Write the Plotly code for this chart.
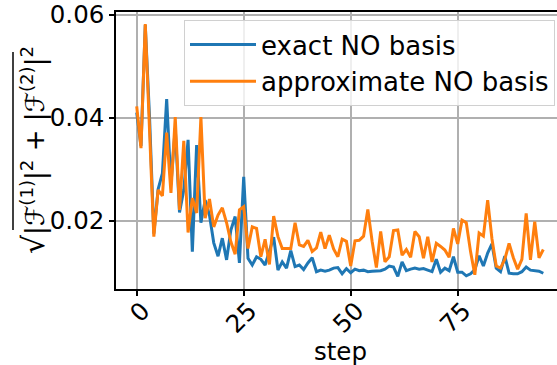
import plotly.graph_objects as go

steps = list(range(96))

exact_no = [
    0.0410, 0.0345, 0.0580, 0.0400, 0.0175, 0.0261, 0.0292, 0.0436, 0.0270, 0.0380,
    0.0216, 0.0260, 0.0357, 0.0140, 0.0347, 0.0196, 0.0240, 0.0211, 0.0157, 0.0131,
    0.0166, 0.0124, 0.0182, 0.0208, 0.0118, 0.0285, 0.0127, 0.0114, 0.0130, 0.0125,
    0.0114, 0.0140, 0.0168, 0.0104, 0.0120, 0.0108, 0.0142, 0.0111, 0.0114, 0.0105,
    0.0118, 0.0128, 0.0101, 0.0104, 0.0102, 0.0104, 0.0108, 0.0109, 0.0097, 0.0107,
    0.0099, 0.0106, 0.0103, 0.0104, 0.0101, 0.0102, 0.0103, 0.0103, 0.0106, 0.0112,
    0.0110, 0.0092, 0.0120, 0.0103, 0.0106, 0.0108, 0.0106, 0.0107, 0.0104, 0.0101,
    0.0125, 0.0100, 0.0108, 0.0103, 0.0130, 0.0100, 0.0100, 0.0093, 0.0097, 0.0105,
    0.0132, 0.0112, 0.0137, 0.0155, 0.0108, 0.0101, 0.0131, 0.0098, 0.0097, 0.0097,
    0.0101, 0.0110, 0.0104, 0.0103, 0.0102, 0.0098,
]

approx_no = [
    0.0422, 0.0341, 0.0582, 0.0380, 0.0169, 0.0260, 0.0248, 0.0371, 0.0254, 0.0401,
    0.0221, 0.0355, 0.0177, 0.0244, 0.0215, 0.0401, 0.0205, 0.0242, 0.0188, 0.0211,
    0.0225, 0.0196, 0.0159, 0.0135, 0.0221, 0.0227, 0.0146, 0.0188, 0.0185, 0.0130,
    0.0164, 0.0115, 0.0209, 0.0169, 0.0146, 0.0146, 0.0146, 0.0196, 0.0153, 0.0150,
    0.0162, 0.0140, 0.0147, 0.0178, 0.0146, 0.0172, 0.0145, 0.0130, 0.0164, 0.0160,
    0.0112, 0.0161, 0.0162, 0.0170, 0.0222, 0.0160, 0.0109, 0.0179, 0.0120, 0.0130,
    0.0181, 0.0182, 0.0133, 0.0144, 0.0129, 0.0179, 0.0169, 0.0127, 0.0169, 0.0120,
    0.0156, 0.0150, 0.0143, 0.0129, 0.0185, 0.0155, 0.0201, 0.0196, 0.0140, 0.0095,
    0.0176, 0.0170, 0.0240, 0.0165, 0.0112, 0.0108, 0.0125, 0.0156, 0.0128, 0.0106,
    0.0125, 0.0214, 0.0124, 0.0198, 0.0128, 0.0144,
]

x_ticks = [0, 25, 50, 75]
x_tick_labels = ["0", "25", "50", "75"]
y_ticks = [0.02, 0.04, 0.06]
y_tick_labels = ["0.02", "0.04", "0.06"]

FONT = "DejaVu Sans"
FS = 24.5

fig = go.Figure()
fig.add_trace(go.Scatter(x=steps, y=exact_no, mode="lines", name="exact NO basis",
                         line=dict(color="#1f77b4", width=3), legendgroup="a"))
fig.add_trace(go.Scatter(x=steps, y=approx_no, mode="lines", name="approximate NO basis",
                         line=dict(color="#ff7f0e", width=3), legendgroup="b"))

W, H = 557, 365
ml, mr, mt, mb = 116, 0, 12, 76
pw = W - ml - mr
ph = H - mt - mb

fig.update_layout(
    width=W, height=H,
    margin=dict(l=ml, r=mr, t=mt, b=mb, autoexpand=False),
    paper_bgcolor="white", plot_bgcolor="white",
    font=dict(family=FONT, size=FS, color="black"),
    showlegend=True,
    legend=dict(x=(184 - 116) / pw, y=1 - (20 - 12) / ph, xanchor="left", yanchor="top",
                bgcolor="rgba(255,255,255,0.8)", bordercolor="#d0d0d0", borderwidth=1,
                font=dict(size=26), tracegroupgap=0, itemwidth=66),
)
fig.update_xaxes(range=[-4.84, 98.2], tickvals=x_ticks, ticktext=x_tick_labels,
                 tickangle=-45, showgrid=True, gridcolor="#b0b0b0", gridwidth=1.5,
                 showline=True, linecolor="black", linewidth=1.5, mirror=True,
                 ticks="outside", ticklen=5, tickwidth=1.5, tickcolor="black",
                 zeroline=False, automargin=False, ticklabelshift=6, ticklabelstandoff=-9,
                 ticklabeloverflow="allow")
fig.update_yaxes(range=[0.00674, 0.06052], tickvals=y_ticks, ticktext=y_tick_labels,
                 showgrid=True, gridcolor="#b0b0b0", gridwidth=1.5,
                 showline=True, linecolor="black", linewidth=1.5,
                 ticks="outside", ticklen=5, tickwidth=1.5, tickcolor="black",
                 zeroline=False, automargin=False, ticklabeloverflow="allow")

fig.add_annotation(text="step", xref="x", yref="paper", x=47.5, y=1 - (351 - 12) / ph,
                   showarrow=False, font=dict(size=FS), xanchor="center", yanchor="middle",
                   borderpad=0)
fig.add_annotation(text="<span style='font-size:30px'>√</span>|ℱ<sup>(1)</sup>|<sup>2</sup> + |ℱ<sup>(2)</sup>|<sup>2</sup>",
                   xref="paper", yref="paper", x=(33 - 116) / pw, y=1 - (150 - 12) / ph,
                   textangle=-90, showarrow=False, font=dict(size=26),
                   xanchor="center", yanchor="middle")
fig.add_shape(type="line", xref="paper", yref="paper",
              x0=(13 - 116) / pw, x1=(13 - 116) / pw,
              y0=1 - (52 - 12) / ph, y1=1 - (230 - 12) / ph,
              line=dict(color="black", width=1.5))

fig.write_html("out.html", config={"displayModeBar": False},
               post_script="document.body.style.margin='0px';")
